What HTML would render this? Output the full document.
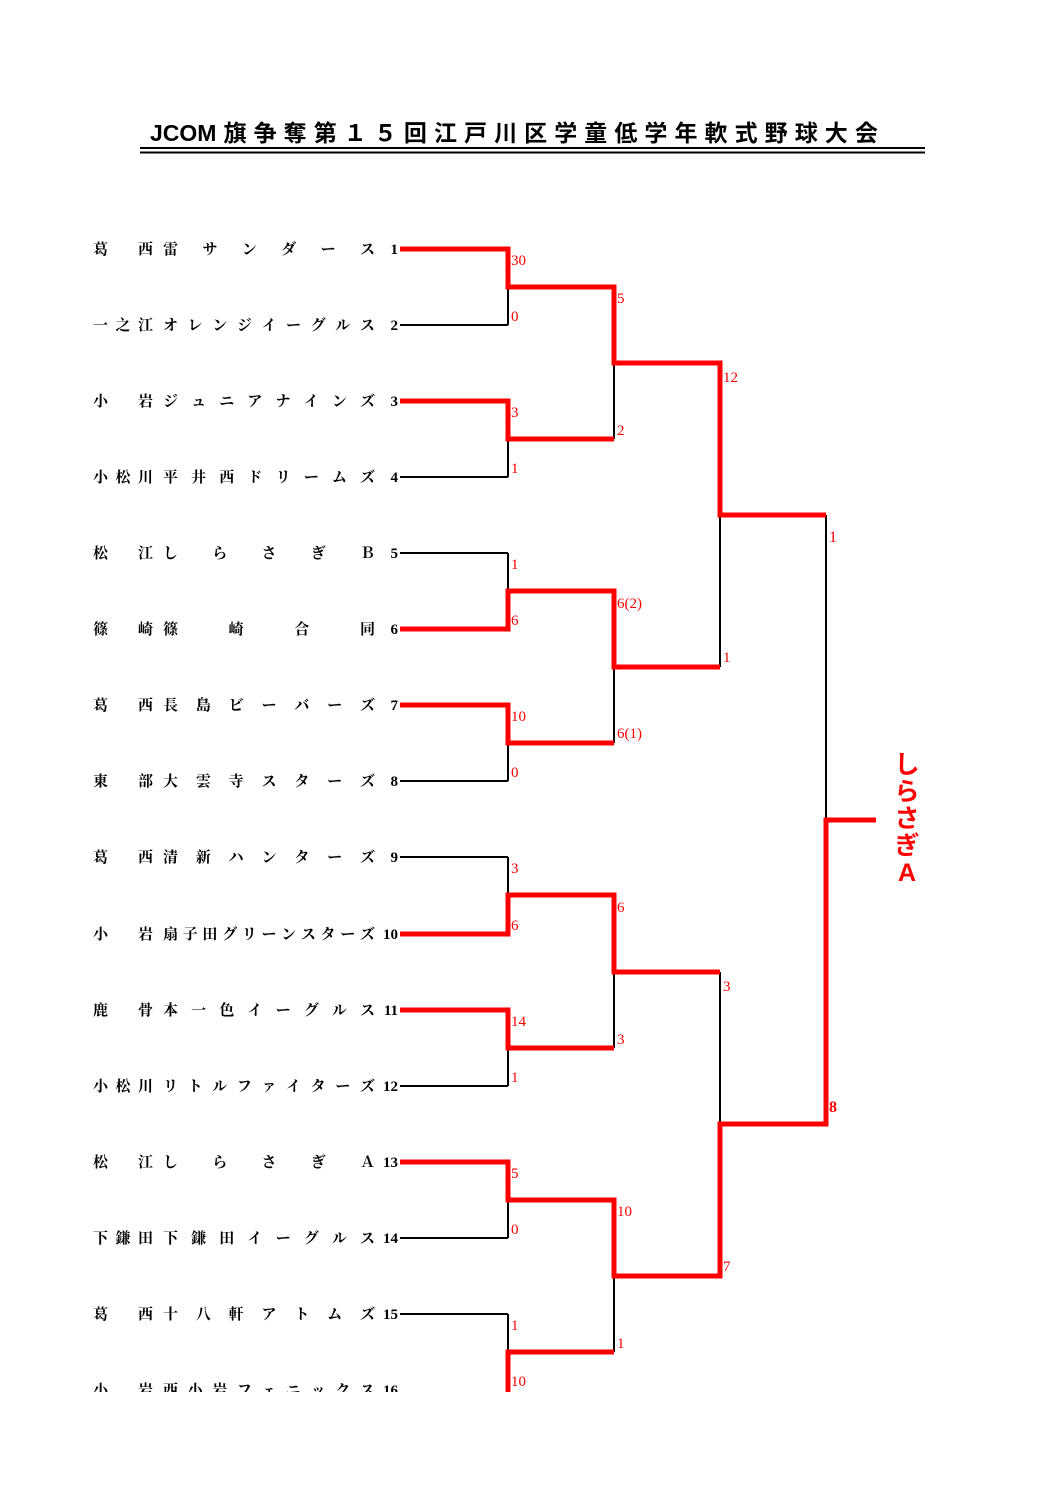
<!DOCTYPE html>
<html><head><meta charset="utf-8">
<style>
html,body{margin:0;padding:0;background:#fff;}
body{width:1058px;height:1497px;position:relative;overflow:hidden;font-family:"Liberation Serif","Noto Serif CJK SC","Noto Sans CJK JP",serif;}
.title{position:absolute;left:150px;top:118px;width:728px;display:flex;justify-content:space-between;font-family:"Liberation Sans","Noto Sans CJK JP",sans-serif;font-weight:bold;font-size:23px;line-height:30px;color:#000;}
.row{position:absolute;left:0;height:20px;font-size:15px;line-height:20px;color:#000;font-weight:bold;}
.area{position:absolute;left:93px;width:60px;display:flex;justify-content:space-between;}
.team{position:absolute;left:163px;width:212px;display:flex;justify-content:space-between;}
.num{position:absolute;left:360px;width:38px;text-align:right;}
svg{position:absolute;left:0;top:0;}
.win{position:absolute;left:893px;top:752px;width:28px;color:#f00;font-family:"Liberation Sans","Noto Sans CJK JP",sans-serif;font-weight:bold;font-size:25px;line-height:27px;text-align:center;}
.cover{position:absolute;left:0;top:1392px;width:1058px;height:105px;background:#fff;}
</style></head><body>
<div class="title"><span>JCOM</span><span>旗</span><span>争</span><span>奪</span><span>第</span><span>１</span><span>５</span><span>回</span><span>江</span><span>戸</span><span>川</span><span>区</span><span>学</span><span>童</span><span>低</span><span>学</span><span>年</span><span>軟</span><span>式</span><span>野</span><span>球</span><span>大</span><span>会</span></div>

<div class="row" style="top:240px"><div class="area"><span>葛</span><span>西</span></div><div class="team"><span>雷</span><span>サ</span><span>ン</span><span>ダ</span><span>ー</span><span>ス</span></div><div class="num">1</div></div>
<div class="row" style="top:316px"><div class="area"><span>一</span><span>之</span><span>江</span></div><div class="team"><span>オ</span><span>レ</span><span>ン</span><span>ジ</span><span>イ</span><span>ー</span><span>グ</span><span>ル</span><span>ス</span></div><div class="num">2</div></div>
<div class="row" style="top:392px"><div class="area"><span>小</span><span>岩</span></div><div class="team"><span>ジ</span><span>ュ</span><span>ニ</span><span>ア</span><span>ナ</span><span>イ</span><span>ン</span><span>ズ</span></div><div class="num">3</div></div>
<div class="row" style="top:468px"><div class="area"><span>小</span><span>松</span><span>川</span></div><div class="team"><span>平</span><span>井</span><span>西</span><span>ド</span><span>リ</span><span>ー</span><span>ム</span><span>ズ</span></div><div class="num">4</div></div>
<div class="row" style="top:544px"><div class="area"><span>松</span><span>江</span></div><div class="team"><span>し</span><span>ら</span><span>さ</span><span>ぎ</span><span>Ｂ</span></div><div class="num">5</div></div>
<div class="row" style="top:620px"><div class="area"><span>篠</span><span>崎</span></div><div class="team"><span>篠</span><span>崎</span><span>合</span><span>同</span></div><div class="num">6</div></div>
<div class="row" style="top:696px"><div class="area"><span>葛</span><span>西</span></div><div class="team"><span>長</span><span>島</span><span>ビ</span><span>ー</span><span>バ</span><span>ー</span><span>ズ</span></div><div class="num">7</div></div>
<div class="row" style="top:772px"><div class="area"><span>東</span><span>部</span></div><div class="team"><span>大</span><span>雲</span><span>寺</span><span>ス</span><span>タ</span><span>ー</span><span>ズ</span></div><div class="num">8</div></div>
<div class="row" style="top:848px"><div class="area"><span>葛</span><span>西</span></div><div class="team"><span>清</span><span>新</span><span>ハ</span><span>ン</span><span>タ</span><span>ー</span><span>ズ</span></div><div class="num">9</div></div>
<div class="row" style="top:925px"><div class="area"><span>小</span><span>岩</span></div><div class="team"><span>扇</span><span>子</span><span>田</span><span>グ</span><span>リ</span><span>ー</span><span>ン</span><span>ス</span><span>タ</span><span>ー</span><span>ズ</span></div><div class="num">10</div></div>
<div class="row" style="top:1001px"><div class="area"><span>鹿</span><span>骨</span></div><div class="team"><span>本</span><span>一</span><span>色</span><span>イ</span><span>ー</span><span>グ</span><span>ル</span><span>ス</span></div><div class="num">11</div></div>
<div class="row" style="top:1077px"><div class="area"><span>小</span><span>松</span><span>川</span></div><div class="team"><span>リ</span><span>ト</span><span>ル</span><span>フ</span><span>ァ</span><span>イ</span><span>タ</span><span>ー</span><span>ズ</span></div><div class="num">12</div></div>
<div class="row" style="top:1153px"><div class="area"><span>松</span><span>江</span></div><div class="team"><span>し</span><span>ら</span><span>さ</span><span>ぎ</span><span>Ａ</span></div><div class="num">13</div></div>
<div class="row" style="top:1229px"><div class="area"><span>下</span><span>鎌</span><span>田</span></div><div class="team"><span>下</span><span>鎌</span><span>田</span><span>イ</span><span>ー</span><span>グ</span><span>ル</span><span>ス</span></div><div class="num">14</div></div>
<div class="row" style="top:1305px"><div class="area"><span>葛</span><span>西</span></div><div class="team"><span>十</span><span>八</span><span>軒</span><span>ア</span><span>ト</span><span>ム</span><span>ズ</span></div><div class="num">15</div></div>
<div class="row" style="top:1381px"><div class="area"><span>小</span><span>岩</span></div><div class="team"><span>西</span><span>小</span><span>岩</span><span>フ</span><span>ェ</span><span>ニ</span><span>ッ</span><span>ク</span><span>ス</span></div><div class="num">16</div></div>

<svg width="1058" height="1497" viewBox="0 0 1058 1497">
<line x1="140" y1="148" x2="925" y2="148" stroke="#000" stroke-width="2"/>
<line x1="140" y1="152.5" x2="925" y2="152.5" stroke="#000" stroke-width="2"/>
<g stroke="#000" stroke-width="2" fill="none">
<line x1="400" y1="325" x2="508" y2="325"/><line x1="400" y1="477" x2="508" y2="477"/>
<line x1="400" y1="553" x2="508" y2="553"/><line x1="400" y1="781" x2="508" y2="781"/>
<line x1="400" y1="857" x2="508" y2="857"/><line x1="400" y1="1086" x2="508" y2="1086"/>
<line x1="400" y1="1238" x2="508" y2="1238"/><line x1="400" y1="1314" x2="508" y2="1314"/>
<line x1="508" y1="287" x2="508" y2="325"/><line x1="508" y1="439" x2="508" y2="477"/>
<line x1="508" y1="553" x2="508" y2="591"/><line x1="508" y1="743" x2="508" y2="781"/>
<line x1="508" y1="857" x2="508" y2="895"/><line x1="508" y1="1048" x2="508" y2="1086"/>
<line x1="508" y1="1200" x2="508" y2="1238"/><line x1="508" y1="1314" x2="508" y2="1352"/>
<line x1="614" y1="363" x2="614" y2="439"/><line x1="614" y1="667" x2="614" y2="743"/>
<line x1="614" y1="972" x2="614" y2="1048"/><line x1="614" y1="1276" x2="614" y2="1352"/>
<line x1="720" y1="515" x2="720" y2="667"/><line x1="720" y1="972" x2="720" y2="1124"/>
<line x1="826" y1="515" x2="826" y2="820"/>
</g>
<g stroke="#f00" stroke-width="5" fill="none" stroke-linejoin="miter">
<polyline points="400,249 508,249 508,287 614,287 614,363 720,363 720,515 826,515"/>
<polyline points="400,401 508,401 508,439 614,439"/>
<polyline points="400,629 508,629 508,591 614,591 614,667 720,667"/>
<polyline points="400,705 508,705 508,743 614,743"/>
<polyline points="400,934 508,934 508,895 614,895 614,972 720,972"/>
<polyline points="400,1010 508,1010 508,1048 614,1048"/>
<polyline points="400,1162 508,1162 508,1200 614,1200 614,1276 720,1276 720,1124 826,1124 826,820 876,820"/>
<polyline points="508,1400 508,1352 614,1352"/>
</g>
<g fill="#f00" font-family="Liberation Serif, serif" font-size="15">
<text x="511" y="265">30</text><text x="511" y="321">0</text>
<text x="511" y="417">3</text><text x="511" y="473">1</text>
<text x="511" y="569">1</text><text x="511" y="625">6</text>
<text x="511" y="721">10</text><text x="511" y="777">0</text>
<text x="511" y="873">3</text><text x="511" y="930">6</text>
<text x="511" y="1026">14</text><text x="511" y="1082">1</text>
<text x="511" y="1178">5</text><text x="511" y="1234">0</text>
<text x="511" y="1330">1</text><text x="511" y="1386">10</text>
<text x="617" y="303">5</text><text x="617" y="435">2</text>
<text x="617" y="608">6(2)</text><text x="617" y="738">6(1)</text>
<text x="617" y="912">6</text><text x="617" y="1044">3</text>
<text x="617" y="1216">10</text><text x="617" y="1348">1</text>
<text x="723" y="382">12</text><text x="723" y="662">1</text>
<text x="723" y="991">3</text><text x="723" y="1271">7</text>
<text x="829" y="542" font-size="16">1</text><text x="829" y="1112" font-size="16" font-weight="bold">8</text>
</g>
</svg>
<div class="win">し<br>ら<br>さ<br>ぎ<br>A</div>
<div class="cover"></div>
</body></html>
